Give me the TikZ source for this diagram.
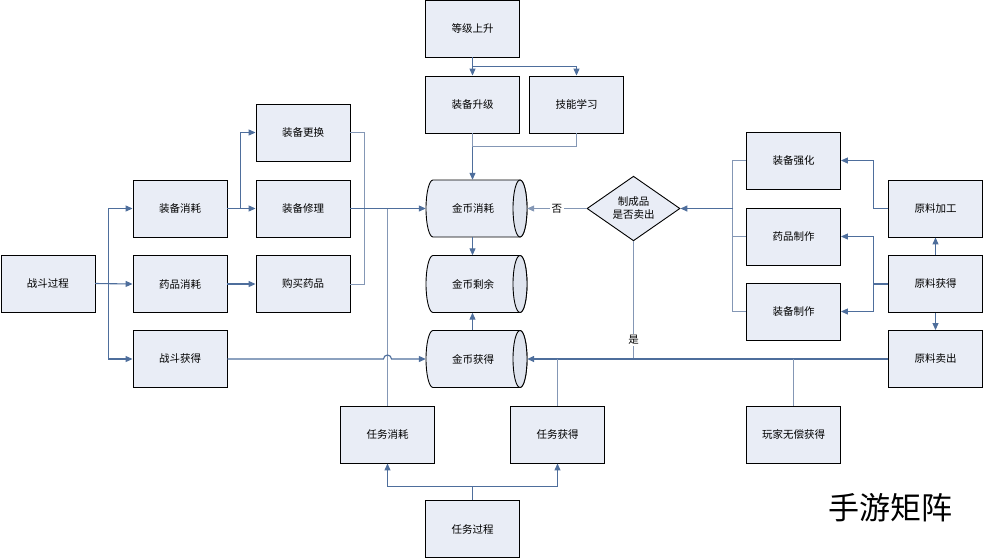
\documentclass[tikz,border=0pt]{standalone}
\usepackage{fontspec}
\setmainfont{Noto Sans CJK SC}
\usetikzlibrary{shapes.geometric,arrows.meta}
\definecolor{boxfill}{HTML}{E9EDF6}
\definecolor{endfill}{HTML}{DFE4EE}
\definecolor{lineA}{HTML}{4E6E9C}
\definecolor{lineB}{HTML}{8497B5}
\newcommand\mycyl[4]{%
  \path[fill=boxfill,draw=black,line width=0.9pt]
    (#2-43.5,#3-28.5) -- (#2+43.5,#3-28.5)
    arc[start angle=90,end angle=-90,x radius=7pt,y radius=28.5pt]
    -- (#2-43.5,#3+28.5)
    arc[start angle=270,end angle=90,x radius=7pt,y radius=28.5pt] -- cycle;
  \path[fill=endfill,draw=black,line width=0.9pt] (#2+43.5,#3) ellipse[x radius=7pt,y radius=28.5pt];
  \node[txt,minimum width=101pt,minimum height=57pt,inner sep=0pt] (#1) at (#2,#3) {\hspace*{-7pt}#4};
}
\begin{document}
\begin{tikzpicture}[x=1pt,y=-1pt,
  txt/.style={font=\fontsize{10.5}{13}\selectfont},
  box/.style={txt,draw=black,line width=0.9pt,fill=boxfill,minimum width=94pt,minimum height=57pt,inner sep=0pt},
  dia/.style={txt,shape=diamond,draw=black,line width=0.9pt,fill=boxfill,minimum width=93pt,minimum height=57pt,inner sep=0pt,align=center},
  tip/.style={-{Triangle[length=7pt,width=6pt]}},
  ca/.style={draw=lineA,line width=1.1pt},
  cb/.style={draw=lineB,line width=0.9pt},
  lab/.style={txt,fill=white,inner sep=1.5pt}
]
\useasboundingbox (0,0) rectangle (983,558);
% left column
\node[box] (zd) at (48,283.5) {战斗过程};
\node[box] (bx) at (180,208.5) {装备消耗};
\node[box] (yx) at (180,284) {药品消耗};
\node[box] (zh) at (180,359) {战斗获得};
\node[box] (gh) at (303,132.5) {装备更换};
\node[box] (xl) at (303,208.5) {装备修理};
\node[box] (gm) at (303,284) {购买药品};
% top centre
\node[box] (dj) at (472.5,28.5) {等级上升};
\node[box] (zs) at (472.5,104.5) {装备升级};
\node[box] (jn) at (576.5,104.5) {技能学习};
% cylinders
\mycyl{xh}{476.5}{208.5}{金币消耗}
\mycyl{sy}{476.5}{284}{金币剩余}
\mycyl{hd}{476.5}{359}{金币获得}
% diamond
\node[dia] (dm) at (633.5,208.5) {制成品\\是否卖出};
% right
\node[box] (qh) at (793.5,160.5) {装备强化};
\node[box] (yz) at (793.5,236.5) {药品制作};
\node[box] (zz) at (793.5,311.5) {装备制作};
\node[box] (lj) at (935.5,208.5) {原料加工};
\node[box] (lh) at (935.5,284) {原料获得};
\node[box] (lm) at (935.5,359) {原料卖出};
% bottom
\node[box] (rx) at (387.5,434.5) {任务消耗};
\node[box] (rd) at (557.5,434.5) {任务获得};
\node[box] (rg) at (472.5,529) {任务过程};
\node[box] (wj) at (793.5,434.5) {玩家无偿获得};
% watermark
\node[font=\fontsize{31}{34}\selectfont,inner sep=0pt] (wm) at (890,508) {手游矩阵};

% left connectors
\draw[ca,tip] (zd.east) -- ++(13,0) |- (bx.west);
\draw[ca,tip] (zd.east) -- (yx.west);
\draw[ca,tip] (zd.east) -- ++(13,0) |- (zh.west);
\draw[ca,tip] (bx.east) -- ++(13,0) |- (gh.west);
\draw[ca,tip] (bx.east) -- (xl.west);
\draw[ca,tip] (yx.east) -- (gm.west);
\draw[cb] (gh.east) -- ++(14,0) |- (gm.east);
\draw[ca,tip] (xl.east) -- (xh.west);
\draw[cb] (rx.north) -- (rx.north |- xl.east);
\draw[ca,tip] (zh.east) -- (383.5,359) arc[start angle=180,end angle=0,radius=4pt] -- (hd.west);
% top connectors
\draw[ca,tip] (dj.south) -- (zs.north);
\draw[ca,tip] (dj.south) -- ++(0,9) -| (jn.north);
\draw[ca,tip] (zs.south) -- (zs.south |- xh.north);
\draw[cb] (jn.south) -- ++(0,13) -| (zs.south);
\draw[ca,tip] (xh.south -| zs.south) -- (sy.north -| zs.south);
\draw[ca,tip] (hd.north -| zs.south) -- (sy.south -| zs.south);
% diamond
\draw[cb,tip] (dm.west) -- node[lab] {否} (xh.east);
\draw[cb] (dm.south) -- node[lab,pos=0.84] {是} (dm.south |- hd.east);
\draw[ca,line width=1.4pt,tip] (lm.west) -- (hd.east);
\draw[cb] (rd.north) -- (rd.north |- hd.east);
\draw[cb] (wj.north) -- (wj.north |- hd.east);
% right connectors
\coordinate (rj) at (733,208.5);
\draw[cb] (qh.west) -- ++(-13.5,0) |- (zz.west);
\draw[cb] (yz.west) -- ++(-13.5,0);
\draw[ca,line width=1.4pt,tip] (rj) -- (dm.east);
\draw[cb] (lj.west) -- ++(-15,0);
\draw[cb] (lh.west) -- ++(-15,0);
\draw[ca,tip] (lj.west) -- ++(-15,0) |- (qh.east);
\draw[ca,tip] (lh.west) -- ++(-15,0) |- (yz.east);
\draw[ca,tip] (lh.west) -- ++(-15,0) |- (zz.east);
\draw[ca,tip] (lh.north) -- (lj.south);
\draw[ca,tip] (lh.south) -- (lm.north);
% bottom connectors
\draw[ca,tip] (rg.north) -- ++(0,-14) -| (rx.south);
\draw[ca,tip] (rg.north) -- ++(0,-14) -| (rd.south);
\end{tikzpicture}
\end{document}
